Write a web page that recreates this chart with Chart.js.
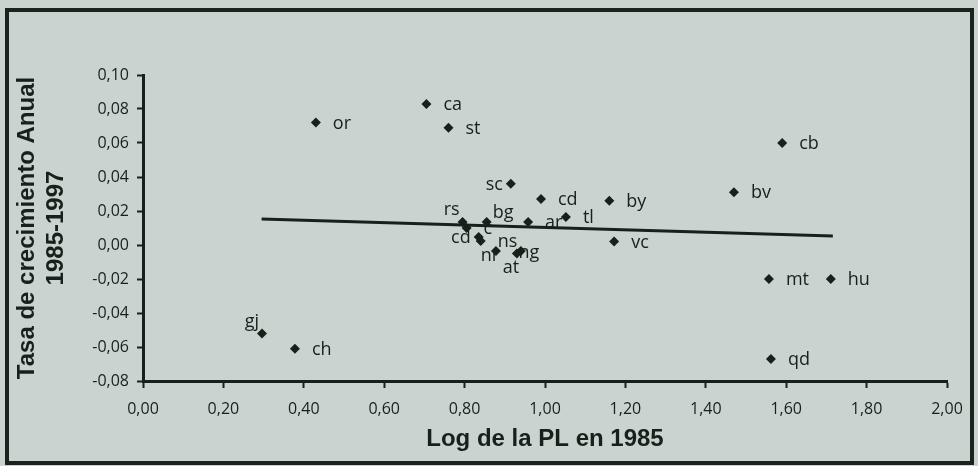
<!DOCTYPE html>
<html>
<head>
<meta charset="utf-8">
<script src="https://cdn.jsdelivr.net/npm/chart.js@4/dist/chart.umd.min.js"></script>
<style>
  html, body { margin: 0; padding: 0; background: #c9d3cf; }
  canvas { display: block; }
</style>
</head>
<body>
<canvas id="graphique" width="978" height="466"></canvas>
<script>
// Données
const etiquettes = ["or", "ca", "st", "sc", "cd", "by", "cb", "bv", "rs", "c", "bg", "cd", "ns", "nr", "ng", "at", "ar", "tl", "vc", "mt", "hu", "qd", "gj", "ch"];
const logPL = [0.43, 0.705, 0.76, 0.915, 0.99, 1.16, 1.59, 1.47, 0.795, 0.805, 0.855, 0.835, 0.84, 0.878, 0.94, 0.93, 0.958, 1.052, 1.172, 1.557, 1.711, 1.562, 0.296, 0.378];
const tasa = [0.072, 0.083, 0.069, 0.036, 0.027, 0.026, 0.060, 0.031, 0.0135, 0.010, 0.0135, 0.0047, 0.0024, -0.0035, -0.0035, -0.005, 0.0135, 0.0165, 0.002, -0.020, -0.020, -0.067, -0.052, -0.061];
// position de l'étiquette par rapport au point
const positionEtiquette = ["r", "r", "r", "l", "r", "r", "r", "r", "tl", "r", "tr", "l", "r", "bl", "c", "b", "r", "r", "r", "r", "r", "r", "tl", "r"];

// Droite de tendance (extrémités lues)
const tendanceX = [0.295, 1.716];
const tendanceY = [0.0153, 0.0053];

const encre = "#18201b";
const fond = "#c9d3cf";

const points = logPL.map((x, i) => ({ x: x, y: tasa[i] }));
const tendance = tendanceX.map((x, i) => ({ x: x, y: tendanceY[i] }));

function virgule(v) {
  return Number(v).toFixed(2).replace(".", ",");
}

// Fond et cadre
const cadrePlugin = {
  id: "cadre",
  beforeDraw(chart) {
    const ctx = chart.ctx;
    ctx.save();
    ctx.fillStyle = fond;
    ctx.fillRect(0, 0, chart.width, chart.height);
    ctx.restore();
  },
  afterDraw(chart) {
    const ctx = chart.ctx;
    ctx.save();
    ctx.strokeStyle = "#1a241d";
    ctx.lineWidth = 4;
    ctx.strokeRect(7, 10, 965, 453);
    ctx.restore();
  }
};

// Étiquettes des points
const etiquettesPlugin = {
  id: "etiquettes",
  afterDatasetsDraw(chart) {
    const ctx = chart.ctx;
    const meta = chart.getDatasetMeta(1);
    ctx.save();
    ctx.font = "18px 'Open Sans'";
    ctx.fillStyle = encre;
    ctx.textBaseline = "middle";
    meta.data.forEach((pt, i) => {
      const pos = positionEtiquette[i];
      let x = pt.x, y = pt.y + 1;
      ctx.textAlign = "left";
      if (pos === "r") { x += 17; }
      else if (pos === "l") { x -= 8; ctx.textAlign = "right"; }
      else if (pos === "tl") { x -= 3; y -= 13; ctx.textAlign = "right"; }
      else if (pos === "tr") { x += 6; y -= 10; }
      else if (pos === "b") { x -= 6; y += 13; ctx.textAlign = "center"; }
      else if (pos === "bl") { x -= 6; y += 4; ctx.textAlign = "center"; }
      else if (pos === "c") { x += 8; y += 1; ctx.textAlign = "center"; }
      ctx.fillText(etiquettes[i], x, y);
    });
    ctx.restore();
  }
};

new Chart(document.querySelector("#graphique"), {
  type: "scatter",
  data: {
    datasets: [
      {
        type: "line",
        data: tendance,
        borderColor: encre,
        borderWidth: 3,
        pointRadius: 0,
        fill: false
      },
      {
        data: points,
        pointStyle: "rectRot",
        pointRadius: 5,
        backgroundColor: encre,
        borderColor: encre,
        borderWidth: 0
      }
    ]
  },
  options: {
    responsive: false,
    animation: false,
    devicePixelRatio: 1,
    layout: { padding: { top: 75, right: 31, left: 0, bottom: 0 } },
    plugins: {
      legend: { display: false },
      tooltip: { enabled: false }
    },
    scales: {
      x: {
        type: "linear",
        min: 0,
        max: 2,
        afterFit: (s) => { s.height = 85; },
        ticks: {
          stepSize: 0.2,
          callback: virgule,
          color: encre,
          font: { family: "'Open Sans'", size: 16 },
          padding: 12,
          maxRotation: 0
        },
        grid: { drawOnChartArea: false, drawTicks: true, tickLength: 7, tickWidth: 2, tickColor: encre },
        border: { color: encre, width: 3 },
        title: {
          display: true,
          text: "Log de la PL en 1985",
          color: encre,
          font: { family: "'Liberation Sans'", size: 24, weight: "bold", lineHeight: 1.2 },
          padding: { top: 0, bottom: 12 }
        }
      },
      y: {
        min: -0.08,
        max: 0.10,
        afterFit: (s) => { s.width = 143; },
        ticks: {
          stepSize: 0.02,
          callback: virgule,
          color: encre,
          font: { family: "'Open Sans'", size: 16 },
          padding: 8
        },
        grid: { drawOnChartArea: false, drawTicks: true, tickLength: 6, tickWidth: 2, tickColor: encre },
        border: { color: encre, width: 3 },
        title: {
          display: true,
          text: ["Tasa de crecimiento Anual", "1985-1997"],
          color: encre,
          font: { family: "'Liberation Sans'", size: 24, weight: "bold", lineHeight: 1.2 },
          padding: { top: 13, bottom: 0 }
        }
      }
    }
  },
  plugins: [cadrePlugin, etiquettesPlugin]
});
</script>
</body>
</html>
